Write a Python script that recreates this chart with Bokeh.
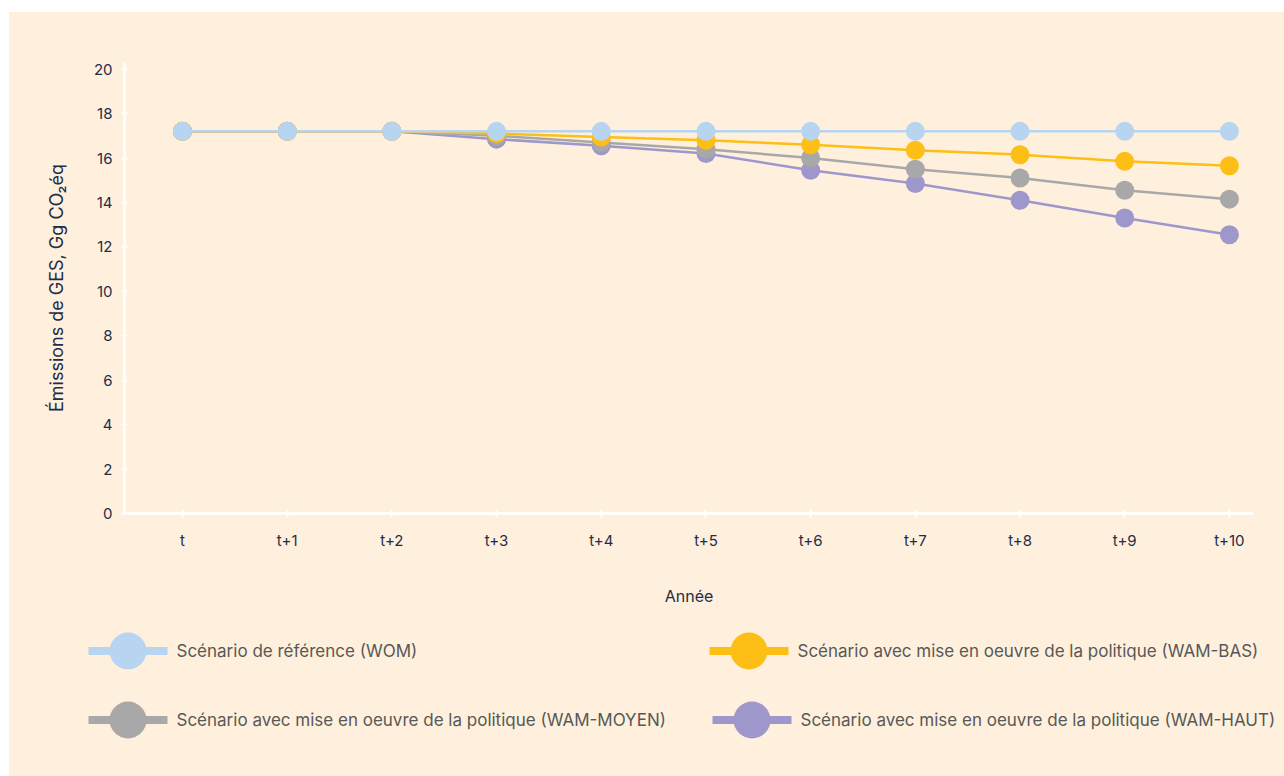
from bokeh.plotting import figure
from bokeh.layouts import column
from bokeh.models import Range1d, FixedTicker, ColumnDataSource
from bokeh.core.properties import value
from bokeh.embed import file_html
from bokeh.resources import INLINE

# --- data -------------------------------------------------------------
years = ["t", "t+1", "t+2", "t+3", "t+4", "t+5", "t+6", "t+7", "t+8", "t+9", "t+10"]
wom = [17.2, 17.2, 17.2, 17.2, 17.2, 17.2, 17.2, 17.2, 17.2, 17.2, 17.2]
wam_bas = [17.2, 17.2, 17.2, 17.1, 16.95, 16.8, 16.6, 16.35, 16.15, 15.85, 15.65]
wam_moyen = [17.2, 17.2, 17.2, 17.0, 16.7, 16.4, 16.0, 15.5, 15.1, 14.55, 14.15]
wam_haut = [17.2, 17.2, 17.2, 16.85, 16.55, 16.2, 15.45, 14.85, 14.1, 13.3, 12.55]

series_names = [
    "Scénario de référence (WOM)",
    "Scénario avec mise en oeuvre de la politique (WAM-BAS)",
    "Scénario avec mise en oeuvre de la politique (WAM-MOYEN)",
    "Scénario avec mise en oeuvre de la politique (WAM-HAUT)",
]
series_values = [wom, wam_bas, wam_moyen, wam_haut]
series_colors = ["#B7D4F0", "#FDBE16", "#A8A8A8", "#9E97CC"]

y_ticks = [0, 2, 4, 6, 8, 10, 12, 14, 16, 18, 20]

# --- style ------------------------------------------------------------
CREAM = "#FEF0DC"
NAVY = "#1F2D4A"
GREY_TEXT = "#585858"
FONT = "Inter"

x_idx = list(range(len(years)))

p = figure(
    width=1275, height=608,
    x_range=Range1d(-0.554, 10.23), y_range=Range1d(0, 20.3),
    output_backend="svg", toolbar_location=None,
    background_fill_color=CREAM, border_fill_color=CREAM,
    min_border_left=115, min_border_right=31,
    min_border_top=50, min_border_bottom=107,
    frame_align=False,
)
p.outline_line_color = None
p.grid.visible = False

# draw lowest series first so the reference scenario sits on top
for name, vals, col in reversed(list(zip(series_names, series_values, series_colors))):
    src = ColumnDataSource(dict(x=x_idx, y=vals))
    p.line("x", "y", source=src, line_color=col, line_width=2.5)
    p.scatter("x", "y", source=src, size=19, fill_color=col, line_color=None)

for ax in (p.xaxis[0], p.yaxis[0]):
    ax.axis_line_color = "white"
    ax.axis_line_width = 2.5
    ax.major_tick_line_color = "white"
    ax.major_tick_line_width = 2
    ax.minor_tick_line_color = None
    ax.major_label_text_color = NAVY
    ax.major_label_text_font = FONT
    ax.major_label_text_font_size = "15px"
    ax.axis_label_text_color = NAVY
    ax.axis_label_text_font = FONT
    ax.axis_label_text_font_style = "normal"

xa = p.xaxis[0]
xa.ticker = FixedTicker(ticks=x_idx)
xa.major_label_overrides = {i: lab for i, lab in zip(x_idx, years)}
xa.major_tick_in = 4
xa.major_tick_out = 4
xa.major_label_standoff = 13
xa.axis_label = "Année"
xa.axis_label_text_font_size = "16px"
xa.axis_label_standoff = 33

ya = p.yaxis[0]
ya.ticker = FixedTicker(ticks=y_ticks)
ya.major_tick_in = 3
ya.major_tick_out = 3
ya.major_label_standoff = 9
ya.axis_label = "Émissions de GES, Gg CO₂éq"
ya.axis_label_text_font_size = "18px"
ya.axis_label_standoff = 24

# --- legend panel -----------------------------------------------------
leg = figure(
    width=1275, height=156,
    x_range=Range1d(0, 1275), y_range=Range1d(156, 0),
    output_backend="svg", toolbar_location=None,
    background_fill_color=CREAM, border_fill_color=CREAM,
    min_border=0, frame_align=False,
)
leg.axis.visible = False
leg.grid.visible = False
leg.outline_line_color = None

leg_x = [79, 700, 79, 703]
leg_y = [30.5, 30.5, 99.5, 99.5]
seg_len = 79
for name, col, lx, ly in zip(series_names, series_colors, leg_x, leg_y):
    leg.segment(x0=lx, y0=ly, x1=lx + seg_len, y1=ly, line_color=col, line_width=8)
    leg.scatter(x=[lx + seg_len / 2], y=[ly], size=37, fill_color=col, line_color=None)
    leg.text(x=[lx + seg_len + 9], y=[ly], text=[name],
             text_font=value(FONT), text_font_size="17px",
             text_color=GREY_TEXT, text_baseline="middle", text_align="left")

layout = column(p, leg, spacing=0, margin=(12, 0, 0, 9),
                styles={"background-color": CREAM})

with open("out.html", "w") as f:
    f.write(file_html(layout, INLINE))
